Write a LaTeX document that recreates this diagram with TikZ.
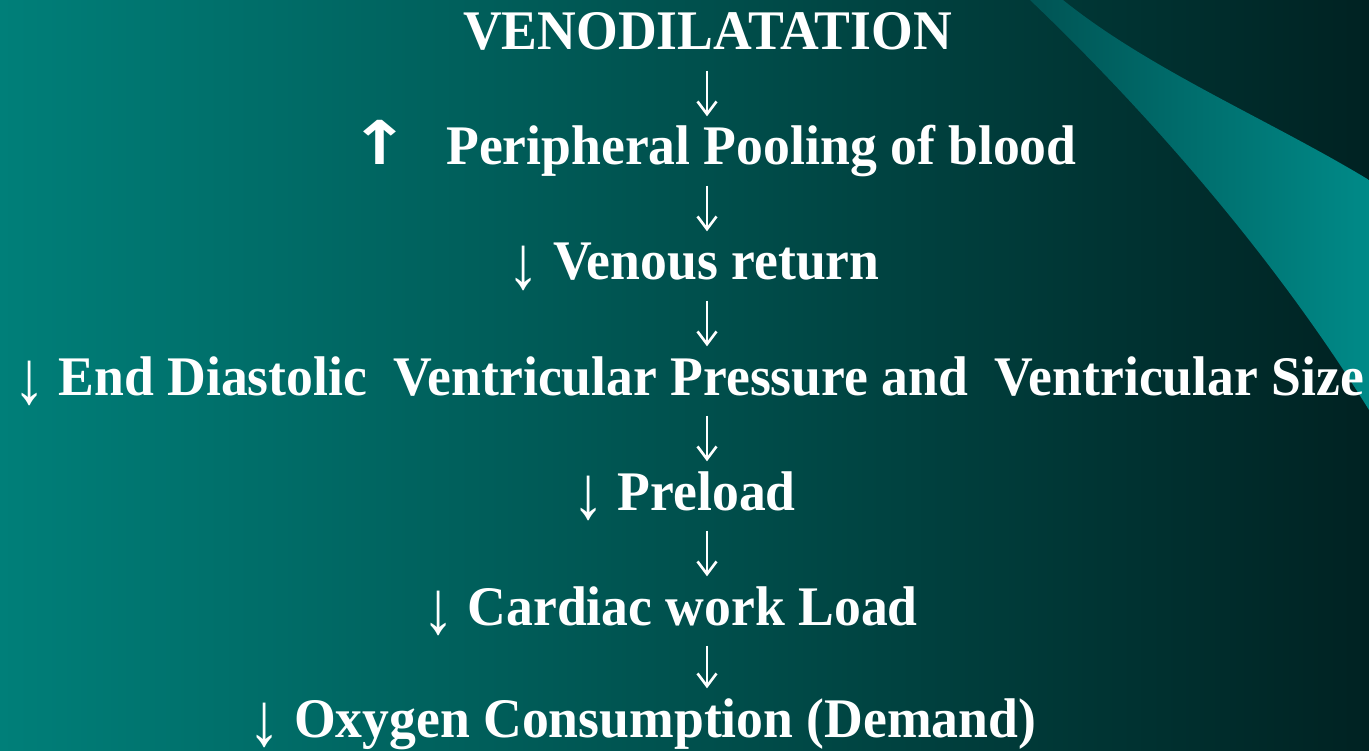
\documentclass[tikz,border=0pt]{standalone}
\usepackage{fontspec}
\setmainfont{Liberation Serif}[FakeStretch=0.96]
\newfontfamily\arrowfont{DejaVu Sans}
\usetikzlibrary{arrows.meta, positioning, calc}
\definecolor{bgL} {RGB}{  0,127,121}
\definecolor{bgR} {RGB}{  0, 34, 34}
\definecolor{wdgL}{RGB}{  0, 84, 84}
\definecolor{wdgR}{RGB}{  0,138,136}
\tikzset{
  steptxt/.style={anchor=base, inner sep=0pt, text=white,
    font=\fontsize{15.9}{19}\selectfont\bfseries, text height=0.48cm, text depth=0.2cm},
  arr/.style={-{Straight Barb[length=3.6pt,width=5.4pt]}, line width=0.75pt, color=white},
}
\newcommand{\dnarr}{\raisebox{-0.16em}{\scalebox{1.2}[1.35]{\mdseries ↓}}}
\newcommand{\uparr}{\scalebox{1.3}[1.08]{\arrowfont\bfseries ↑}}

\begin{document}
\begin{tikzpicture}[x=1cm, y=1cm]
\useasboundingbox (0,0) rectangle (13.69,-7.51);
\shade[left color=bgL, right color=bgR] (0,0) rectangle (13.69,-7.51);
% light wedge at the upper right
\shade[left color=wdgL, right color=wdgR] (10.30,0) .. controls (11.4,-1.05) and (12.7,-2.5) .. (13.69,-4.1)
  -- (13.69,-1.8) .. controls (12.7,-1.2) and (11.5,-0.7) .. (10.63,0) -- cycle;
\coordinate (ax) at (7.07,0);
\node[steptxt] (venodil)  at (7.075,-0.50) {VENODILATATION};
\node[steptxt] (pooling)  at (7.13,-1.65)  {\uparr\hspace{0.36cm}Peripheral Pooling of blood};
\node[steptxt] (venret)   at (6.935,-2.80) {\dnarr\ Venous return};
\node[steptxt] (edvp)     at (6.885,-3.95) {\dnarr\ End Diastolic\ \ Ventricular Pressure and\ \ Ventricular Size};
\node[steptxt] (preload)  at (6.84,-5.10)  {\dnarr\ Preload};
\node[steptxt] (workload) at (6.70,-6.25)  {\dnarr\ Cardiac work Load};
\node[steptxt] (oxycons)  at (6.425,-7.37) {\dnarr\ Oxygen Consumption (Demand)};
\foreach \a/\b in {venodil/pooling, pooling/venret, venret/edvp, edvp/preload,
  preload/workload, workload/oxycons}
  \draw[arr] (\a.south -| ax) -- (\b.north -| ax);
\end{tikzpicture}
\end{document}
